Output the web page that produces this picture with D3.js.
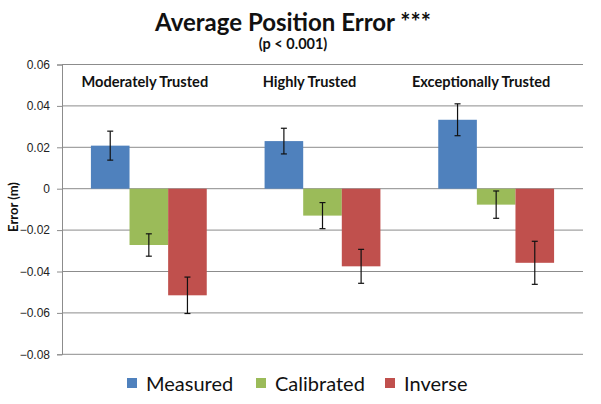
<!DOCTYPE html>
<html><head><meta charset="utf-8">
<script src="https://cdn.jsdelivr.net/npm/d3@7"></script>
<style>body{margin:0;background:#fff;} svg{display:block;font-family:Lato, "Open Sans", sans-serif;}</style>
</head><body>
<svg id="c" width="601" height="404"></svg>
<script>
const categories = ["Moderately Trusted", "Highly Trusted", "Exceptionally Trusted"];
const series = ["Measured", "Calibrated", "Inverse"];
const measured = [0.0208, 0.0230, 0.0333];
const calibrated = [-0.0272, -0.0130, -0.0077];
const inverse = [-0.0515, -0.0375, -0.0358];
const measuredErr = [0.0070, 0.0062, 0.0077];
const calibratedErr = [0.0054, 0.0063, 0.0066];
const inverseErr = [0.0088, 0.0082, 0.0104];
const yTicks = [0.06, 0.04, 0.02, 0, -0.02, -0.04, -0.06, -0.08];
const colors = ["#4F81BD", "#9BBB59", "#C0504D"];

const values = [measured, calibrated, inverse];
const errs = [measuredErr, calibratedErr, inverseErr];
const svg = d3.select("#c");
const mLeft = 62, mRight = 583, mTop = 64.5, mBottom = 354.3;

const y = d3.scaleLinear().domain([-0.08, 0.06]).range([mBottom, mTop]);
const x0 = d3.scaleBand().domain(categories).range([mLeft, mRight]).paddingInner(0.333).paddingOuter(0.1665);
const x1 = d3.scaleBand().domain(series).range([0, x0.bandwidth()]);

// gridlines
svg.append("g").selectAll("line").data(yTicks).join("line")
  .attr("x1", mLeft).attr("x2", mRight)
  .attr("y1", d => y(d)).attr("y2", d => y(d))
  .attr("stroke", "#8c8c8c").attr("stroke-width", 1);

// axis
const ax = svg.append("g").attr("transform", `translate(${mLeft},0)`)
  .call(d3.axisLeft(y).tickValues(yTicks).tickSize(5).tickPadding(7)
    .tickFormat(d => d === 0 ? "0" : d3.format(".2f")(d)));
ax.select(".domain").attr("stroke", "#8c8c8c");
ax.selectAll(".tick line").attr("stroke", "#8c8c8c");
ax.selectAll("text").attr("font-size", 12).attr("fill", "#222");

// bars
const groups = svg.append("g").selectAll("g").data(categories).join("g")
  .attr("transform", d => `translate(${x0(d)},0)`);
groups.each(function(cat, ci) {
  const g = d3.select(this);
  series.forEach((s, si) => {
    const v = values[si][ci];
    g.append("rect")
      .attr("x", x1(s)).attr("width", x1.bandwidth())
      .attr("y", y(Math.max(0, v))).attr("height", Math.abs(y(v) - y(0)))
      .attr("fill", colors[si]);
  });
  series.forEach((s, si) => {
    const v = values[si][ci], e = errs[si][ci];
    const cx = x1(s) + x1.bandwidth() / 2;
    g.append("line").attr("x1", cx).attr("x2", cx)
      .attr("y1", y(v + e)).attr("y2", y(v - e)).attr("stroke", "#111").attr("stroke-width", 1.2);
    [v + e, v - e].forEach(t => g.append("line").attr("x1", cx - 3).attr("x2", cx + 3)
      .attr("y1", y(t)).attr("y2", y(t)).attr("stroke", "#111").attr("stroke-width", 1.2));
  });
});

// category labels
const labelShift = [-4, -13, -15];
svg.append("g").selectAll("text").data(categories).join("text")
  .attr("x", (d, i) => x0(d) + x0.bandwidth() / 2 + labelShift[i]).attr("y", 87)
  .attr("text-anchor", "middle").attr("font-size", 14.6).attr("font-weight", "bold").attr("fill", "#111")
  .text(d => d);

// titles
svg.append("text").attr("x", 293).attr("y", 31).attr("text-anchor", "middle")
  .attr("font-size", 24).attr("font-weight", "bold").attr("fill", "#111").text("Average Position Error ***");
svg.append("text").attr("x", 293).attr("y", 49).attr("text-anchor", "middle")
  .attr("font-size", 14.5).attr("font-weight", "bold").attr("fill", "#111").text("(p < 0.001)");

// y label
svg.append("text").attr("transform", "translate(18,207) rotate(-90)").attr("text-anchor", "middle")
  .attr("font-size", 13).attr("font-weight", "bold").attr("fill", "#111").text("Error (m)");

// legend
const legX = [127, 256, 385];
const leg = svg.append("g").selectAll("g").data(series).join("g")
  .attr("transform", (d, i) => `translate(${legX[i]},383)`);
leg.append("rect").attr("x", 0).attr("y", -5).attr("width", 10).attr("height", 10).attr("fill", (d, i) => colors[i]);
leg.append("text").attr("x", 19).attr("y", 7.5).attr("font-size", 20).attr("fill", "#111").text(d => d);
</script>
</body></html>
